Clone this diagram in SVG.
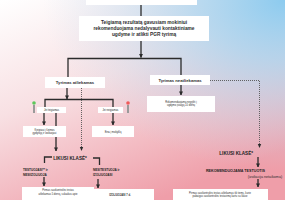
<svg xmlns="http://www.w3.org/2000/svg" width="285" height="200" viewBox="0 0 285 200">
<defs>
<linearGradient id="bg" x1="0" y1="0" x2="0.55" y2="1">
<stop offset="0" stop-color="#ffffff"/>
<stop offset="0.45" stop-color="#f8e0e3"/>
<stop offset="1" stop-color="#ef9ea9"/>
</linearGradient>
<radialGradient id="blue" cx="1" cy="0" r="0.85">
<stop offset="0" stop-color="#8ccbef" stop-opacity="1"/>
<stop offset="0.35" stop-color="#a9d5f0" stop-opacity="0.8"/>
<stop offset="1" stop-color="#c8def0" stop-opacity="0"/>
</radialGradient>
<marker id="ah" viewBox="0 0 10 10" refX="9" refY="5" markerWidth="4" markerHeight="4" orient="auto" markerUnits="userSpaceOnUse">
<path d="M0,0 L10,5 L0,10 z" fill="#2b2b2b"/>
</marker>
<style>
.box{fill:#ffffff}
.ln{stroke:#2b2b2b;stroke-width:1.3;fill:none}
.dot{stroke:#555;stroke-width:0.9;fill:none;stroke-dasharray:1 1}
.t{font-family:"Liberation Sans",Arial,sans-serif;fill:#2e2e2e;text-anchor:middle}
.b{font-weight:bold}
.s{font-size:2.6px}
.m{font-size:4.2px}
.l{font-size:4.8px}
.h{font-family:"Liberation Sans",Arial,sans-serif;fill:#222;font-weight:bold}
</style>
</defs>
<rect width="285" height="200" fill="url(#bg)"/>
<rect width="285" height="200" fill="url(#blue)"/>

<g id="connectors">
<line class="ln" x1="141" y1="5" x2="141" y2="16"/>
<line class="ln" x1="141" y1="41" x2="141" y2="57.5" marker-end="url(#ah)"/>
<polyline class="ln" points="68,77 68,58.5 181,58.5 181,75"/>
<line class="ln" x1="67" y1="88" x2="67" y2="99" marker-end="url(#ah)"/>
<polyline class="ln" points="45,107 45,99.5 113,99.5 113,107"/>
<line class="dot" x1="81.5" y1="88" x2="81.5" y2="150"/>
<path d="M79.8,147 L83.2,147 L81.5,151 z" fill="#2b2b2b"/>
<line class="ln" x1="44" y1="113" x2="44" y2="125" marker-end="url(#ah)"/>
<line class="ln" x1="56" y1="113" x2="56" y2="151" marker-end="url(#ah)"/>
<line class="ln" x1="113" y1="113" x2="113" y2="125" marker-end="url(#ah)"/>
<line class="ln" x1="181" y1="85" x2="181" y2="95" marker-end="url(#ah)"/>
<polyline class="dot" points="210,80.5 259.5,80.5 259.5,146"/>
<path d="M257.8,144 L261.2,144 L259.5,148 z" fill="#2b2b2b"/>
<polyline class="ln" points="44.5,163 44.5,157 52,157"/>
<polyline class="ln" points="93,158 99.5,158 99.5,165"/>
<line class="ln" x1="44" y1="177" x2="44" y2="186" marker-end="url(#ah)"/>
<line class="ln" x1="98" y1="179" x2="98" y2="188" marker-end="url(#ah)"/>
<line class="ln" x1="258" y1="157" x2="258" y2="167" marker-end="url(#ah)"/>
<line class="ln" x1="258" y1="179" x2="258" y2="187" marker-end="url(#ah)"/>
</g>

<g id="top"><rect class="box" x="86" y="-2" width="111" height="7"/></g>

<g id="teigiamas">
<rect class="box" x="79" y="16" width="130" height="25"/>
<text class="t b l" x="144" y="24">Teigiamą rezultatą gavusiam mokiniui</text>
<text class="t b l" x="144" y="29.8">rekomenduojama nedalyvauti kontaktiniame</text>
<text class="t b l" x="144" y="35.6">ugdyme ir atlikti PGR tyrimą</text>
</g>

<g id="atliekamas">
<rect class="box" x="45" y="77" width="60" height="11"/>
<text class="t b m" x="75" y="84">Tyrimas atliekamas</text>
</g>

<g id="neatliekamas">
<rect class="box" x="150" y="75" width="60" height="10"/>
<text class="t b m" x="180" y="81.5">Tyrimas neatliekamas</text>
</g>

<g id="jei-teigiamas">
<rect class="box" x="37" y="107" width="29" height="6"/>
<text class="t s" x="51.5" y="111">Jei teigiamas</text>
<circle cx="34" cy="103" r="1.8" fill="#5cc85a"/>
<rect x="33" y="105" width="2" height="8" fill="#9a9a9a"/>
</g>

<g id="jei-neigiamas">
<rect class="box" x="98" y="107" width="25" height="6"/>
<text class="t s" x="110.5" y="111">Jei neigiamas</text>
<circle cx="128" cy="103" r="1.8" fill="#f05a5a"/>
<rect x="127" y="105" width="2" height="8" fill="#9a9a9a"/>
</g>

<g id="kreipiasi">
<rect class="box" x="23" y="126" width="43" height="11"/>
<text class="t s" x="44.5" y="130.5">Kreipiasi į šeimos</text>
<text class="t s" x="44.5" y="134">gydytoją ir izoliuojasi</text>
</g>

<g id="eina">
<rect class="box" x="92" y="126" width="42" height="11"/>
<text class="t s" x="113" y="132.5">Eina į mokyklą</text>
</g>

<g id="negrizti">
<rect class="box" x="147" y="96" width="68" height="16"/>
<text class="t s" x="181" y="102.5">Rekomenduojama negrįžti į</text>
<text class="t s" x="181" y="106.3">ugdymo įstaigą 10 dienų</text>
</g>

<g id="likusi-kaire">
<text class="h" x="70" y="159.5" font-size="4.6" text-anchor="middle">LIKUSI KLASĖ*</text>
</g>

<g id="testuojasi">
<text class="h" x="23" y="170.5" font-size="3.1">TESTUOJASI** ir</text>
<text class="h" x="23" y="175.5" font-size="3.1">NESIIZOLIUOJA</text>
</g>

<g id="nesitestuoja">
<text class="h" x="93" y="170.5" font-size="3.1">NESITESTUOJA ir</text>
<text class="h" x="93" y="175.5" font-size="3.1">IZOLIUOJASI</text>
</g>

<g id="pirmas-kaire">
<rect class="box" x="22" y="187" width="72" height="15"/>
<text class="t s" x="58" y="191">Pirmas savikontrolės testas</text>
<text class="t s" x="58" y="194.5">atliekamas 5 dieną, sulaukus apie</text>
</g>

<g id="izoliuojasi">
<rect class="box" x="92" y="189" width="62" height="13"/>
<text class="t s b" x="120" y="195.5">IZOLIUOJASI 7 d.</text>
</g>

<g id="likusi-desine">
<text class="h" x="253" y="155" font-size="4.6" text-anchor="end">LIKUSI KLASĖ*</text>
</g>

<g id="rekomenduojama">
<text class="h" x="265" y="172" font-size="3.7" text-anchor="end">REKOMENDUOJAMA TESTUOTIS</text>
<text class="t" x="265" y="177.5" font-size="3.7" text-anchor="end" fill="#444">(izoliacija netaikoma)</text>
</g>

<g id="pirmas-desine">
<rect class="box" x="173" y="189" width="95" height="13"/>
<text class="t s" x="220" y="193.5">Pirmas savikontrolės testas atliekamas tik tiems, kurie</text>
<text class="t s" x="220" y="197">pabaigus savikontrolės testavimą kartu su klase</text>
</g>
</svg>
